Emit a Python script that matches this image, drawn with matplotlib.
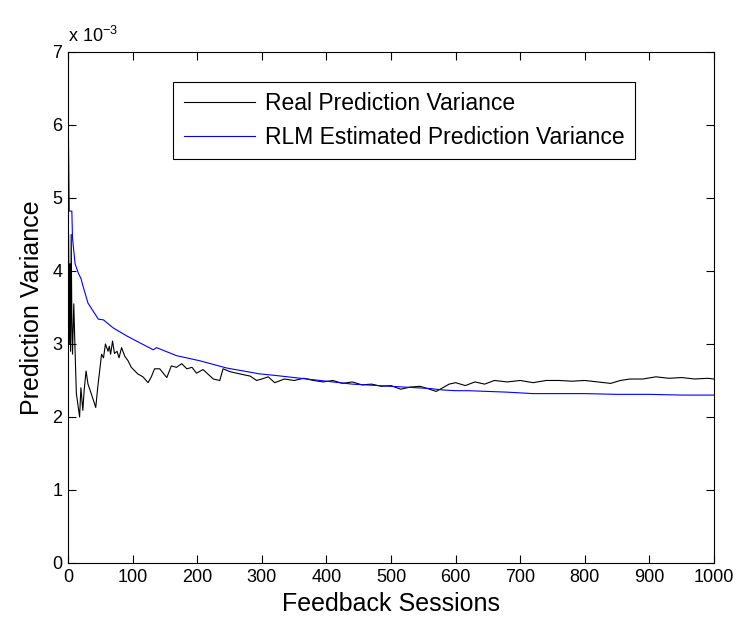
import matplotlib
matplotlib.use("Agg")
import matplotlib.pyplot as plt
import numpy as np

plt.rcParams['font.family'] = ['Liberation Sans', 'DejaVu Sans']
plt.rcParams['mathtext.fontset'] = 'custom'
plt.rcParams['mathtext.rm'] = 'Liberation Sans'
plt.rcParams['mathtext.it'] = 'Liberation Sans'

# Real prediction variance (values in units of 1e-3)
real_sessions = [0, 1, 2, 3, 4, 5, 6, 7, 9, 11, 13, 16, 18, 20, 23, 25, 28, 31, 36, 43, 46, 49,
                 52, 55, 58, 62, 64, 66, 69, 72, 76, 79, 83, 88, 93, 98, 108, 116, 124, 129,
                 134, 142, 153, 160, 168, 176, 184, 192, 199, 209, 225, 235, 240, 251, 266,
                 282, 292, 300, 310, 320, 335, 350, 365, 380, 395, 410, 425, 440, 455, 470,
                 485, 500, 515, 530, 545, 560, 570, 580, 590, 600, 615, 630, 645, 660, 680,
                 700, 720, 740, 760, 780, 800, 820, 840, 855, 870, 890, 910, 930, 950, 970,
                 990, 1000]
real_values = [2.9, 4.5, 3.0, 4.1, 2.9, 4.5, 3.3, 2.86, 3.55, 2.9, 2.32, 2.13, 2.0, 2.4, 2.09,
               2.36, 2.63, 2.45, 2.32, 2.13, 2.4, 2.63, 2.86, 2.81, 3.0, 2.9, 2.97, 2.86, 3.04,
               2.87, 2.9, 2.81, 2.95, 2.83, 2.77, 2.68, 2.59, 2.55, 2.47, 2.55, 2.66, 2.66,
               2.54, 2.70, 2.68, 2.73, 2.66, 2.68, 2.60, 2.65, 2.52, 2.50, 2.66, 2.62, 2.59,
               2.56, 2.50, 2.52, 2.55, 2.47, 2.52, 2.50, 2.53, 2.50, 2.48, 2.50, 2.46, 2.48,
               2.44, 2.45, 2.42, 2.43, 2.38, 2.41, 2.42, 2.38, 2.35, 2.40, 2.45, 2.47, 2.43,
               2.48, 2.45, 2.50, 2.48, 2.50, 2.47, 2.50, 2.50, 2.49, 2.50, 2.48, 2.46, 2.50,
               2.52, 2.52, 2.55, 2.53, 2.54, 2.52, 2.53, 2.52]

# RLM estimated prediction variance (values in units of 1e-3)
est_sessions = [0, 2, 6, 7, 11, 16, 20, 24, 31, 47, 55, 70, 91, 106, 132, 137, 168, 204, 246,
                297, 320, 340, 360, 380, 400, 420, 440, 460, 480, 500, 520, 540, 560, 580,
                600, 620, 650, 680, 700, 720, 750, 800, 850, 900, 950, 1000]
est_values = [6.41, 4.82, 4.82, 4.45, 4.1, 3.97, 3.9, 3.77, 3.56, 3.34, 3.33, 3.22, 3.11, 3.04,
              2.92, 2.95, 2.84, 2.77, 2.67, 2.59, 2.57, 2.55, 2.53, 2.51, 2.49, 2.47, 2.45,
              2.44, 2.43, 2.42, 2.41, 2.40, 2.39, 2.37, 2.36, 2.36, 2.35, 2.34, 2.33, 2.32,
              2.32, 2.32, 2.31, 2.31, 2.30, 2.30]

series_labels = ['Real Prediction Variance', 'RLM Estimated Prediction Variance']
x_ticks = [0, 100, 200, 300, 400, 500, 600, 700, 800, 900, 1000]
y_ticks = [0, 1, 2, 3, 4, 5, 6, 7]
scale = 1e-3

fig = plt.figure(figsize=(7.38, 6.24), dpi=100)
ax = fig.add_axes([0.0921, 0.0978, 0.8754, 0.8189])

ax.plot(real_sessions, np.array(real_values) * scale, color='black', lw=0.8,
        label=series_labels[0])
ax.plot(est_sessions, np.array(est_values) * scale, color='blue', lw=0.8,
        label=series_labels[1])

ax.set_xlim(0, 1000)
ax.set_ylim(0, 7 * scale)
ax.set_xticks(x_ticks)
ax.set_xticklabels([str(t) for t in x_ticks])
ax.set_yticks(np.array(y_ticks) * scale)
ax.set_yticklabels([str(t) for t in y_ticks])
ax.tick_params(direction='in', top=True, right=True, length=6, width=0.8,
               labelsize=13, pad=4)
for s in ax.spines.values():
    s.set_linewidth(0.8)

ax.text(0.0, 1.012, r'x 10$^{-3}$', transform=ax.transAxes, fontsize=13,
        ha='left', va='bottom')

ax.set_xlabel('Feedback Sessions', fontsize=18, labelpad=5)
ax.set_ylabel('Prediction Variance', fontsize=18, labelpad=6)

leg = ax.legend(loc='upper left', bbox_to_anchor=(0.163, 0.941), borderaxespad=0,
                fontsize=16.5, frameon=True, fancybox=False, edgecolor='black',
                framealpha=1, handlelength=3.1, borderpad=0.45, labelspacing=0.45,
                handletextpad=0.45)
leg.get_frame().set_linewidth(0.8)

fig.savefig('out.png', dpi=100, facecolor='white')
